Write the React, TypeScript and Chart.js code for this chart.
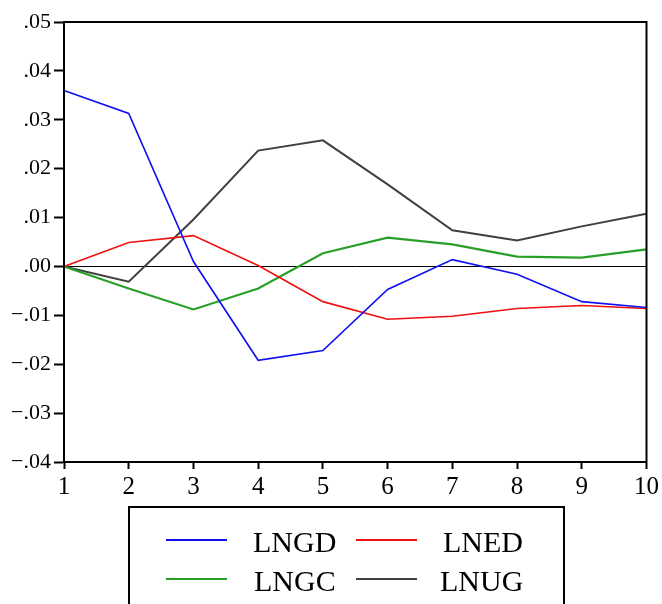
import React, { useEffect, useRef } from "react";
import { Chart, registerables } from "chart.js";

Chart.register(...registerables);

const periods = ["1", "2", "3", "4", "5", "6", "7", "8", "9", "10"];
const lngd = [0.036, 0.0313, 0.001, -0.0192, -0.0172, -0.0047, 0.0014, -0.0016, -0.0072, -0.0084];
const lned = [0.0, 0.0049, 0.0063, 0.0002, -0.0072, -0.0108, -0.0102, -0.0086, -0.008, -0.0086];
const lngc = [0.0, -0.0045, -0.0088, -0.0045, 0.0027, 0.0059, 0.0045, 0.002, 0.0018, 0.0035];
const lnug = [0.0, -0.0031, 0.0096, 0.0237, 0.0258, 0.0168, 0.0074, 0.0053, 0.0082, 0.0108];

const seriesNames = ["LNGD", "LNED", "LNGC", "LNUG"];
const seriesColors = ["#1010f0", "#f01010", "#28a028", "#404040"];
const seriesWidths = [1.6, 1.6, 2.2, 2];

const yMin = -0.04;
const yMax = 0.05;

const fmt = (v: number) => {
  const r = Math.round(v * 100);
  const s = "." + String(Math.abs(r)).padStart(2, "0");
  return r < 0 ? "\u2212" + s : s;
};

const framePlugin = {
  id: "frame",
  afterDatasetsDraw(chart: any) {
    const { ctx, chartArea } = chart;
    ctx.save();
    ctx.strokeStyle = "#000";
    ctx.lineWidth = 2;
    ctx.strokeRect(chartArea.left, chartArea.top, chartArea.right - chartArea.left, chartArea.bottom - chartArea.top);
    ctx.restore();
  },
};

const legendPlugin = {
  id: "boxLegend",
  afterDraw(chart: any) {
    const { ctx } = chart;
    ctx.save();
    ctx.strokeStyle = "#000";
    ctx.lineWidth = 2;
    ctx.strokeRect(129, 507, 435, 120);
    const cells = [
      { lx: 166, ly: 540, tx: 253 },
      { lx: 356, ly: 540, tx: 443 },
      { lx: 166, ly: 579, tx: 254 },
      { lx: 356, ly: 579, tx: 440 },
    ];
    ctx.font = "30px 'Liberation Serif', 'Times New Roman', serif";
    ctx.textBaseline = "middle";
    ctx.textAlign = "left";
    chart.data.datasets.forEach((ds: any, i: number) => {
      const c = cells[i];
      ctx.strokeStyle = ds.borderColor;
      ctx.lineWidth = 2;
      ctx.beginPath();
      ctx.moveTo(c.lx, c.ly);
      ctx.lineTo(c.lx + 61, c.ly);
      ctx.stroke();
      ctx.fillStyle = "#000";
      ctx.fillText(ds.label, c.tx, c.ly + 4);
    });
    ctx.restore();
  },
};

export default function App() {
  const ref = useRef<HTMLCanvasElement | null>(null);
  useEffect(() => {
    if (!ref.current) return;
    const datasets = [lngd, lned, lngc, lnug].map((d, i) => ({
      label: seriesNames[i],
      data: d,
      borderColor: seriesColors[i],
      backgroundColor: seriesColors[i],
      borderWidth: seriesWidths[i],
      pointRadius: 0,
      tension: 0,
      fill: false,
    }));
    const chart = new Chart(ref.current, {
      type: "line",
      data: { labels: periods, datasets },
      options: {
        responsive: false,
        animation: false,
        layout: { padding: { left: 0, top: 22, right: 14, bottom: 97 } },
        plugins: { legend: { display: false }, tooltip: { enabled: false } },
        scales: {
          x: {
            offset: false,
            grid: { display: true, drawOnChartArea: false, offset: false, tickLength: 7, tickColor: "#000", tickWidth: 2 },
            border: { display: true, color: "#000", width: 2 },
            ticks: {
              color: "#000",
              padding: 3,
              maxRotation: 0,
              autoSkip: false,
              font: { family: "'Liberation Serif', 'Times New Roman', serif", size: 25 },
            },
            afterFit: (s: any) => { s.height = 45; },
          },
          y: {
            min: yMin,
            max: yMax,
            grid: {
              drawOnChartArea: true,
              color: (c: any) => (c.tick && Math.abs(c.tick.value) < 1e-9 ? "#000" : "rgba(0,0,0,0)"),
              lineWidth: 1,
              tickLength: 10,
              tickColor: "#000",
              tickWidth: 2,
            },
            border: { display: true, color: "#000", width: 2 },
            ticks: {
              stepSize: 0.01,
              color: "#000",
              padding: 3,
              callback: (v: any) => fmt(Number(v)),
              font: { family: "'Liberation Serif', 'Times New Roman', serif", size: 22 },
            },
            afterFit: (s: any) => { s.width = 64; },
          },
        },
      },
      plugins: [framePlugin, legendPlugin],
    });
    return () => chart.destroy();
  }, []);
  return (
    <div style={{ position: "absolute", left: 0, top: 0, width: 662, height: 604, background: "#fff" }}>
      <canvas ref={ref} width={662} height={604} />
    </div>
  );
}
